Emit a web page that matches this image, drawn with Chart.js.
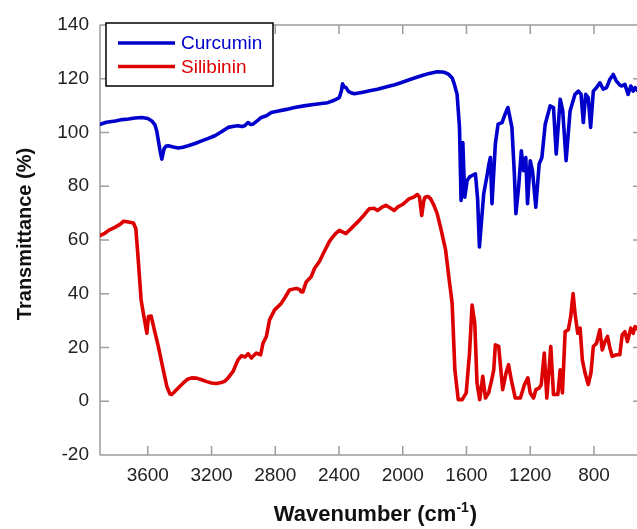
<!DOCTYPE html>
<html>
<head>
<meta charset="utf-8">
<script src="https://cdn.jsdelivr.net/npm/chart.js@4.4.0/dist/chart.umd.min.js"></script>
<style>
  html, body { margin: 0; padding: 0; background: #fff; }
  #wrap { width: 637px; height: 529px; position: relative; }
</style>
</head>
<body>
<div id="wrap"><canvas id="c"></canvas></div>
<script>
// ---- data ----
const seriesNames = ['Curcumin', 'Silibinin'];

const curcuminWn = [3898,3860,3804,3760,3721,3680,3638,3600,3575,3555,3544,3523,3512,3498,3485,3471,3440,3409,3380,3346,3300,3262,3220,3179,3140,3096,3060,3034,3010,2992,2971,2955,2940,2910,2888,2856,2825,2780,2730,2679,2620,2560,2510,2471,2430,2398,2385,2378,2368,2356,2340,2325,2304,2250,2200,2159,2100,2050,2012,1950,1888,1840,1784,1750,1731,1711,1690,1679,1659,1644,1634,1623,1611,1596,1580,1565,1544,1530,1519,1492,1471,1460,1450,1440,1419,1402,1377,1360,1340,1315,1300,1290,1273,1256,1242,1228,1217,1200,1186,1165,1144,1127,1106,1075,1054,1037,1012,996,975,950,919,898,881,867,852,836,821,804,784,763,742,721,700,679,659,640,627,606,586,569,554,542,525,505];
const curcuminT = [103.1,103.8,104.3,104.8,105.0,105.4,105.6,105.2,104.3,102.8,100.6,93.2,90.1,93.9,95.0,95.1,94.6,94.2,94.5,95.1,96.0,96.9,97.8,98.8,100.2,101.9,102.3,102.5,102.2,102.5,103.7,103.0,103.1,104.5,105.6,106.2,107.4,108.0,108.6,109.3,109.9,110.4,110.8,111.1,112.0,113.0,115.5,118.1,117.0,116.7,115.2,114.8,114.4,115.0,115.6,116.1,117.0,117.8,118.5,119.8,121.0,121.9,122.6,122.5,122.2,121.6,120.3,118.5,114.2,101.9,74.7,96.3,75.9,82.1,83.5,84.0,84.6,75.0,57.4,77.2,84.0,88.0,90.7,73.5,95.7,103.1,103.7,106.5,109.3,101.9,85.0,69.8,79.6,93.2,85.8,90.7,73.5,89.5,85.8,72.2,88.3,90.7,103.1,109.9,109.3,92.0,112.4,108.0,89.5,108.0,114.2,115.4,114.2,103.7,114.2,113.0,101.9,115.4,116.7,118.5,116.1,116.7,119.8,121.6,119.1,117.8,117.3,117.9,114.2,117.3,115.4,116.7,115.5,117.0];

const silibininWn = [3898,3870,3846,3804,3770,3752,3721,3690,3675,3663,3642,3621,3606,3596,3579,3554,3534,3512,3481,3461,3450,3429,3400,3377,3350,3325,3294,3262,3230,3200,3170,3138,3115,3096,3065,3034,3013,2990,2971,2950,2935,2919,2892,2877,2856,2836,2804,2763,2740,2711,2669,2648,2638,2627,2606,2575,2554,2523,2490,2460,2440,2420,2398,2356,2320,2273,2240,2211,2180,2159,2130,2106,2080,2054,2030,2002,1961,1930,1909,1895,1881,1868,1861,1840,1825,1805,1784,1760,1731,1711,1690,1673,1652,1627,1602,1581,1565,1548,1534,1517,1498,1481,1461,1444,1429,1419,1398,1373,1352,1336,1319,1294,1262,1236,1215,1200,1179,1165,1144,1131,1112,1096,1071,1054,1027,1012,998,981,961,946,931,919,902,887,873,856,836,819,804,784,763,748,731,715,700,686,659,638,623,606,590,569,554,542,520,505];
const silibininT = [61.7,62.5,63.6,64.8,66.0,67.0,66.7,66.3,64.2,55.0,37.7,30.3,25.3,31.5,31.7,25.3,20.4,14.2,5.6,2.7,2.5,3.7,5.5,6.8,8.2,8.7,8.6,8.0,7.3,6.8,6.6,7.0,7.5,8.7,11.1,15.4,16.9,16.5,17.7,16.1,17.0,17.9,17.3,21.6,24.1,30.3,34.0,36.4,38.5,41.4,42.0,41.6,40.7,40.7,44.4,46.3,49.4,52.0,56.0,59.5,61.1,62.5,63.6,62.4,64.5,67.3,69.5,71.6,71.8,71.0,72.2,72.9,72.0,71.0,72.3,73.2,75.3,76.0,76.9,76.0,69.1,74.5,75.9,76.2,75.3,73.0,69.8,64.0,56.2,46.3,36.4,11.7,0.6,0.6,3.1,17.9,35.8,29.0,6.8,0.6,9.3,1.2,3.1,7.4,11.7,21.0,20.4,4.3,10.5,13.6,8.0,1.2,1.2,6.2,8.7,3.1,1.2,4.3,4.9,6.2,17.9,1.2,20.4,2.5,2.5,11.7,3.1,25.9,26.6,31.5,40.1,32.7,25.3,27.2,15.4,10.5,6.2,10.5,20.4,21.6,26.6,19.1,22.2,24.1,19.8,16.7,17.3,17.3,24.7,25.9,22.2,27.2,25.3,27.8,26.5,27.5];

const xTicks = [3600, 3200, 2800, 2400, 2000, 1600, 1200, 800];
const yTicks = [-20, 0, 20, 40, 60, 80, 100, 120, 140];
const xRange = [530, 3900];
const yRange = [-20, 140];

const xTitle = 'Wavenumber (cm';
const xTitleSup = '-1';
const xTitleEnd = ')';
const yTitle = 'Transmittance (%)';

const colors = ['#0000cc', '#dd0000'];

// ---- build ----
function pts(xs, ys) { return xs.map((v, i) => ({ x: v, y: ys[i] })); }

const FONT = 'Arial, "Liberation Sans", sans-serif';
const AXIS_GRAY = '#9c9c9c';

const framePlugin = {
  id: 'frame',
  beforeDatasetsDraw(chart) {
    const { ctx, chartArea: a, scales: { x, y } } = chart;
    ctx.save();
    ctx.strokeStyle = AXIS_GRAY;
    ctx.lineWidth = 1.5;
    ctx.beginPath();
    ctx.moveTo(a.left, a.top); ctx.lineTo(a.left, a.bottom);
    ctx.moveTo(a.left, a.top); ctx.lineTo(a.right, a.top);
    ctx.moveTo(a.left, a.bottom); ctx.lineTo(a.right, a.bottom);
    const T = 9;
    x.ticks.forEach(t => {
      const px = x.getPixelForValue(t.value);
      ctx.moveTo(px, a.bottom); ctx.lineTo(px, a.bottom - T);
      ctx.moveTo(px, a.top); ctx.lineTo(px, a.top + T);
    });
    y.ticks.forEach(t => {
      const py = y.getPixelForValue(t.value);
      ctx.moveTo(a.left, py); ctx.lineTo(a.left + T, py);
      ctx.moveTo(a.right, py); ctx.lineTo(a.right - 4, py);
    });
    ctx.stroke();
    ctx.restore();
  }
};

const titlePlugin = {
  id: 'axisTitles',
  afterDraw(chart) {
    const { ctx, chartArea: a } = chart;
    ctx.save();
    ctx.fillStyle = '#111';
    ctx.font = 'bold 20px ' + FONT;
    ctx.textAlign = 'center';
    ctx.textBaseline = 'middle';
    ctx.translate(25, (a.top + a.bottom) / 2 - 6);
    ctx.rotate(-Math.PI / 2);
    ctx.fillText(yTitle, 0, 0);
    ctx.restore();

    ctx.save();
    ctx.fillStyle = '#111';
    ctx.textBaseline = 'alphabetic';
    ctx.textAlign = 'left';
    const mainFont = 'bold 22px ' + FONT;
    const supFont = 'bold 14px ' + FONT;
    ctx.font = mainFont; const w1 = ctx.measureText(xTitle).width; const w3 = ctx.measureText(xTitleEnd).width;
    ctx.font = supFont; const w2 = ctx.measureText(xTitleSup).width;
    const total = w1 + w2 + 1 + w3;
    const cx = (a.left + a.right) / 2 + 7;
    const base = 521;
    const x0 = cx - total / 2;
    ctx.font = mainFont; ctx.fillText(xTitle, x0, base);
    ctx.font = supFont; ctx.fillText(xTitleSup, x0 + w1, base - 9);
    ctx.font = mainFont; ctx.fillText(xTitleEnd, x0 + w1 + w2 + 1, base);
    ctx.restore();
  }
};

const legendPlugin = {
  id: 'boxLegend',
  afterDatasetsDraw(chart) {
    const { ctx, chartArea: a } = chart;
    const bx = a.left + 6, by = a.top - 2, bw = 167, bh = 63;
    ctx.save();
    ctx.fillStyle = '#fff';
    ctx.fillRect(bx, by, bw, bh);
    ctx.strokeStyle = '#000';
    ctx.lineWidth = 1.5;
    ctx.strokeRect(bx, by, bw, bh);
    ctx.font = '19px ' + FONT;
    ctx.textBaseline = 'middle';
    ctx.textAlign = 'left';
    chart.data.datasets.forEach((ds, i) => {
      const ly = by + 20 + i * 23.5;
      ctx.strokeStyle = ds.borderColor;
      ctx.lineWidth = 3.5;
      ctx.beginPath();
      ctx.moveTo(bx + 12, ly); ctx.lineTo(bx + 69, ly);
      ctx.stroke();
      ctx.fillStyle = ds.borderColor;
      ctx.fillText(ds.label, bx + 75, ly + 1);
    });
    ctx.restore();
  }
};

new Chart(document.getElementById('c'), {
  type: 'line',
  data: {
    datasets: [
      { label: seriesNames[0], data: pts(curcuminWn, curcuminT), borderColor: colors[0], backgroundColor: colors[0] },
      { label: seriesNames[1], data: pts(silibininWn, silibininT), borderColor: colors[1], backgroundColor: colors[1] }
    ]
  },
  options: {
    responsive: true,
    maintainAspectRatio: false,
    animation: false,
    devicePixelRatio: 1,
    layout: { padding: { left: 0, top: 25, right: 0, bottom: 0 } },
    elements: {
      point: { radius: 0 },
      line: { borderWidth: 3.6, tension: 0, borderJoinStyle: 'round', borderCapStyle: 'round' }
    },
    plugins: { legend: { display: false }, title: { display: false }, tooltip: { enabled: false } },
    scales: {
      x: {
        type: 'linear',
        reverse: true,
        min: xRange[0], max: xRange[1],
        grid: { display: false, drawTicks: false },
        border: { display: false },
        afterBuildTicks: s => { s.ticks = xTicks.map(v => ({ value: v })); },
        afterFit: s => { s.height = 74; },
        ticks: { color: '#222', font: { size: 19, family: FONT }, padding: 9, maxRotation: 0, autoSkip: false, callback: v => String(v) }
      },
      y: {
        type: 'linear',
        min: yRange[0], max: yRange[1],
        grid: { display: false, drawTicks: false },
        border: { display: false },
        afterBuildTicks: s => { s.ticks = yTicks.map(v => ({ value: v })); },
        afterFit: s => { s.width = 100; },
        ticks: { color: '#222', font: { size: 19, family: FONT }, padding: 11, callback: v => String(v) }
      }
    }
  },
  plugins: [framePlugin, legendPlugin, titlePlugin]
});
</script>
</body>
</html>
